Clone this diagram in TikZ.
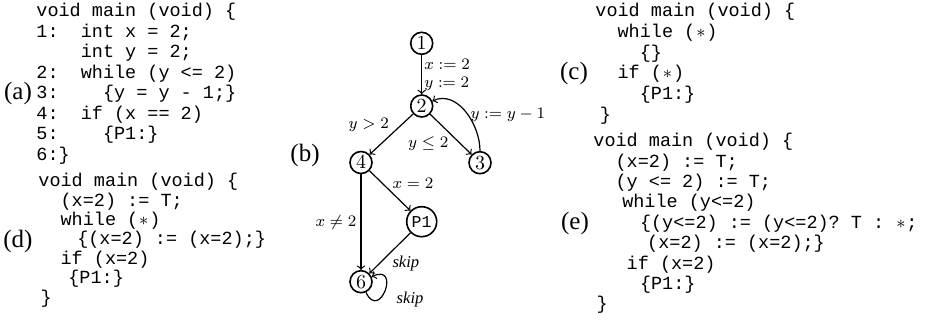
\documentclass[tikz,border=0pt]{standalone}
\usepackage[no-math]{fontspec}
\setmainfont{Liberation Serif}
\setmonofont{Liberation Mono}
\usepackage{amsmath, amssymb}
\tikzstyle{codeblock} = [anchor=base west, inner sep=0pt, align=left, font=\ttfamily\fontsize{9.25}{10.25}\selectfont]
\tikzstyle{tag} = [inner sep=0pt, font=\fontsize{12.5}{13}\selectfont]
\tikzstyle{vertex} = [circle, draw, line width=0.8pt, minimum size=11pt, inner sep=0pt, font=\fontsize{10}{10}\selectfont]
\tikzstyle{arrow} = [line width=0.6pt, ->, >=to]
\tikzstyle{lbl} = [inner sep=1pt, font=\fontsize{8.3}{8.8}\selectfont]
\newcommand{\cind}[1]{\hspace*{#1\dimexpr0.6em\relax}}
\newcommand{\cstar}{\makebox[0.6em]{$\ast$}}

\begin{document}
\begin{tikzpicture}[x=0.5pt, y=0.5pt]
\useasboundingbox (0,0) rectangle (925,-326);

% (a) the program (placed by its last line)
\node (taga) [tag] at (18,-93) {(a)};
\node (proga) [codeblock] at (36,-160.2) {void main (void) \{\\
1:~~int x = 2;\\
\cind{4}int y = 2;\\
2:~~while (y <= 2)\\
3:\cind{4}\{y = y - 1;\}\\
4:~~if (x == 2)\\
5:\cind{4}\{P1:\}\\
6:\}};

% (b) control flow graph
\node (tagb) [tag] at (305,-155) {(b)};
\node (n1) [vertex] at (421.7,-43.3) {$1$};
\node (n2) [vertex] at (421.7,-106) {$2$};
\node (n3) [vertex] at (480,-162.7) {$3$};
\node (n4) [vertex] at (361,-162.5) {$4$};
\node (p1) [vertex, minimum size=15pt, font=\ttfamily\fontsize{8.3}{9}\selectfont] at (421.7,-221.7) {P1};
\node (n6) [vertex] at (361,-281.7) {$6$};
\draw [arrow] (n1) -- node (l12) [lbl, right, align=left] {$x := 2$\\$y := 2$} (n2);
\draw [arrow] (n2) -- node (l24) [lbl, above left] {$y > 2$} (n4);
\draw [arrow] (n2) -- node (l23) [lbl, below left] {$y \leq 2$} (n3);
\draw [arrow] (n3) to[out=90, in=25] node (l32) [lbl, pos=0.45, anchor=west] {$y := y - 1$} (n2);
\draw [arrow] (n4) -- node (l4p) [lbl, above right] {$x = 2$} (p1);
\draw [arrow] (n4) -- node (l46) [lbl, left, inner sep=2pt] {$x \neq 2$} (n6);
\draw [arrow] (p1) -- node (lp6) [lbl, below right] {\textit{skip}} (n6);
\draw [arrow] (n6) to[out=-65, in=25, looseness=5] node (l66) [lbl, pos=0.5, anchor=west, xshift=4.5pt, yshift=-4.5pt] {\textit{skip}} (n6);

% (c) abstraction with no predicates
\node (tagc) [tag] at (574,-73) {(c)};
\node (progc) [codeblock, font=\ttfamily\fontsize{9.25}{10.35}\selectfont] at (595,-120.2) {void main (void) \{\\
\cind{2}while (\cstar)\\
\cind{4}\{\}\\
\cind{2}if (\cstar)\\
\cind{4}\{P1:\}\\
\cind{0.4}\}};

% (d) abstraction with x=2
\node (tagd) [tag] at (18,-241) {(d)};
\node (progd) [codeblock, font=\ttfamily\fontsize{9.25}{9.7}\selectfont] at (38,-303.1) {void main (void) \{\\
\cind{2}(x=2) := T;\\
\cind{2}while (\cstar)\\
\cind{3.5}\{(x=2) := (x=2);\}\\
\cind{2}if (x=2)\\
\cind{2.7}\{P1:\}\\
\cind{0.2}\}};

% (e) abstraction with x=2 and y<=2
\node (tage) [tag] at (575,-223) {(e)};
\node (proge) [codeblock, font=\ttfamily\fontsize{9.25}{10.2}\selectfont] at (593,-309.9) {void main (void) \{\\
\cind{2}(x=2) := T;\\
\cind{2}(y <= 2) := T;\\
\cind{2.6}while (y<=2)\\
\cind{4.2}\{(y<=2) := (y<=2)? T : \cstar;\\
\cind{4.85}(x=2) := (x=2);\}\\
\cind{3}if (x=2)\\
\cind{4.2}\{P1:\}\\
\cind{0.3}\}};

\end{tikzpicture}
\end{document}
